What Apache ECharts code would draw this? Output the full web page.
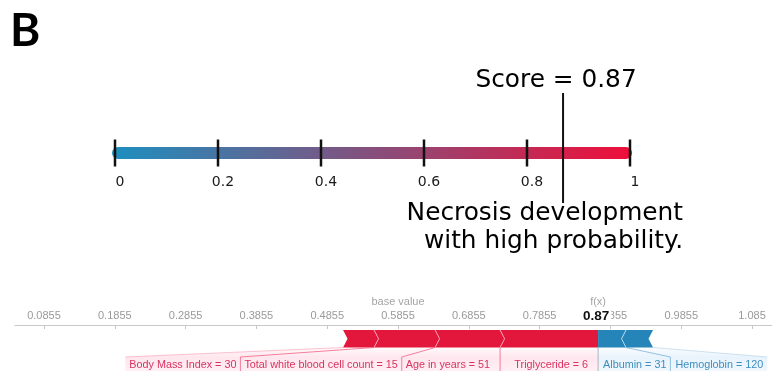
<!DOCTYPE html>
<html>
<head>
<meta charset="utf-8">
<script src="https://cdn.jsdelivr.net/npm/echarts@6/dist/echarts.min.js"></script>
<style>
html, body { margin: 0; padding: 0; background: #fff; }
#c { width: 772px; height: 371px; }
</style>
</head>
<body>
<div id="c"></div>
<script>
// ---------------- data ----------------
const panelLetter = 'B';

const gaugeTicks = [0, 0.2, 0.4, 0.6, 0.8, 1];
const gaugeTickLabels = ['0', '0.2', '0.4', '0.6', '0.8', '1'];
const score = 0.87;
const scoreLabel = 'Score = 0.87';
const verdictLabel = 'Necrosis development\nwith high probability.';

const baseValue = 0.5855;
const outputLabel = '0.87';
const featureLabels = [
  'Body Mass Index = 30',
  'Total white blood cell count = 15',
  'Age in years = 51',
  'Triglyceride = 6',
  'Albumin = 31',
  'Hemoglobin = 120'
];
const shapValues = [0.0438, 0.0862, 0.0918, 0.1384, -0.0395, -0.0381];

const forceTicks = [0.0855, 0.1855, 0.2855, 0.3855, 0.4855, 0.5855, 0.6855, 0.7855, 0.8855, 0.9855, 1.0855];
const forceTickLabels = ['0.0855', '0.1855', '0.2855', '0.3855', '0.4855', '0.5855', '0.6855', '0.7855', '0.8855', '0.9855', '1.085'];

// ---------------- style ----------------
const RED = '#e3163c', BLUE = '#2585b8';
const RED_TEXT = '#d8335f', BLUE_TEXT = '#3d8dbd';
const SANS = '"Liberation Sans", Arial, sans-serif';
const DEJAVU = '"DejaVu Sans", sans-serif';
const LABEL_FS = 10.8;
const forceAxisMin = 0.04454, forceAxisMax = 1.11375;

// ---------------- derived ----------------
const n = featureLabels.length;
const fx = baseValue + shapValues.reduce((a, b) => a + b, 0);
const segs = [];
let cur = fx;
for (let i = n - 1; i >= 0; i--) if (shapValues[i] > 0) { segs[i] = { a: cur - shapValues[i], b: cur }; cur -= shapValues[i]; }
cur = fx;
for (let i = 0; i < n; i++) if (shapValues[i] < 0) { segs[i] = { a: cur, b: cur - shapValues[i] }; cur -= shapValues[i]; }
const posIdx = []; for (let i = n - 1; i >= 0; i--) if (shapValues[i] > 0) posIdx.push(i); // nearest fx first
const negIdx = []; for (let i = 0; i < n; i++) if (shapValues[i] < 0) negIdx.push(i);       // nearest fx first

const mctx = document.createElement('canvas').getContext('2d');
mctx.font = LABEL_FS + 'px ' + SANS;
const textW = s => mctx.measureText(s).width;

function computeLayout(api) {
  const px = v => api.coord([v, 0])[0];
  const fxp = px(fx);
  const L = [];
  let prev = fxp;
  posIdx.forEach(i => {
    const sl = px(segs[i].a), sr = px(segs[i].b);
    const tr = Math.min(sr - 10, prev - 4);
    const tl = tr - textW(featureLabels[i]);
    const boxL = Math.min(sl, tl - 4);
    L[i] = { sl, sr, boxL, boxR: prev, tx: tr, align: 'right', pos: true };
    prev = boxL;
  });
  prev = fxp;
  negIdx.forEach(i => {
    const sl = px(segs[i].a), sr = px(segs[i].b);
    const tl = Math.max(sl + 5, prev + 5);
    const boxR = Math.max(sr, tl + textW(featureLabels[i]) + 4);
    L[i] = { sl, sr, boxL: prev, boxR, tx: tl, align: 'left', pos: false };
    prev = boxR;
  });
  return { L, fxp };
}

function renderForce(params, api) {
  const i = api.value(2);
  const cs = params.coordSys;
  const y0 = cs.y;
  const barTop = y0 + 5, barBot = y0 + 22.5, mid = (barTop + barBot) / 2;
  const labTop = y0 + 32, textY = y0 + 40.5, bottom = y0 + cs.height + 2;
  const h = 4.5;
  const { L, fxp } = computeLayout(api);
  const d = L[i];
  const pos = d.pos;
  const outer = pos ? i === posIdx[posIdx.length - 1] : i === negIdx[negIdx.length - 1];
  const children = [];
  const cr = pos ? '255,13,87' : '30,136,229';
  // shading
  children.push({
    type: 'polygon',
    shape: { points: [[d.sl, barBot], [d.sr, barBot], [d.boxR, labTop], [d.boxR, bottom], [d.boxL, bottom], [d.boxL, labTop]] },
    style: {
      fill: new echarts.graphic.LinearGradient(0, 0, 0, 1, [
        { offset: 0, color: 'rgba(' + cr + ',0.02)' },
        { offset: 0.4, color: 'rgba(' + cr + ',0.10)' },
        { offset: 1, color: 'rgba(' + cr + ',0.06)' }
      ])
    }
  });
  // bar arrow
  let pts;
  if (pos) {
    const nearest = i === posIdx[0];
    pts = [[d.sl, barTop], [d.sr, barTop]];
    if (!nearest) pts.push([d.sr + h, mid]);
    pts.push([d.sr, barBot], [d.sl, barBot], [d.sl + h, mid]);
  } else {
    const nearest = i === negIdx[0];
    pts = [[d.sl, barTop], [d.sr, barTop], [d.sr - h, mid], [d.sr, barBot], [d.sl, barBot]];
    if (!nearest) pts.push([d.sl - h, mid]);
  }
  children.push({ type: 'polygon', shape: { points: pts }, style: { fill: pos ? RED : BLUE } });
  // chevron separators
  if (pos && !outer) {
    children.push({ type: 'polyline', shape: { points: [[d.sl, barTop], [d.sl + h, mid], [d.sl, barBot]] },
      style: { stroke: 'rgba(255,170,190,0.9)', lineWidth: 1, fill: null } });
  }
  if (!pos && i !== negIdx[0]) {
    children.push({ type: 'polyline', shape: { points: [[d.sl, barTop], [d.sl - h, mid], [d.sl, barBot]] },
      style: { stroke: 'rgba(190,220,238,0.9)', lineWidth: 1, fill: null } });
  }
  // connector + divider
  const cx0 = pos ? d.sl : d.sr, cx1 = pos ? d.boxL : d.boxR;
  const cpts = outer ? [[cx0, barBot], [cx1, labTop]] : [[cx0, barBot], [cx1, labTop], [cx1, bottom]];
  children.push({ type: 'polyline', shape: { points: cpts },
    style: { stroke: pos ? 'rgba(240,90,125,' + (outer ? 0.35 : 0.75) + ')' : 'rgba(120,175,210,' + (outer ? 0.35 : 0.75) + ')', lineWidth: 1, fill: null } });
  // f(x) divider
  if (i === posIdx[0]) {
    children.push({ type: 'line', shape: { x1: fxp, y1: barBot, x2: fxp, y2: bottom },
      style: { stroke: '#b5b5b5', lineWidth: 1 } });
  }
  // label
  children.push({ type: 'text', style: {
    text: featureLabels[i], x: d.tx, y: textY, align: d.align, verticalAlign: 'middle',
    fill: pos ? RED_TEXT : BLUE_TEXT, fontSize: LABEL_FS, fontFamily: SANS } });
  return { type: 'group', children };
}

function renderGauge(params, api) {
  const p0 = api.coord([api.value(0), 0]);
  const p1 = api.coord([api.value(1), 0]);
  const hgt = 12;
  return {
    type: 'rect',
    shape: { x: p0[0] - 3, y: p0[1] - hgt / 2, width: p1[0] - p0[0] + 5, height: hgt, r: 6 },
    style: {
      fill: new echarts.graphic.LinearGradient(0, 0, 1, 0, [
        { offset: 0, color: '#1d8fbf' },
        { offset: 1, color: '#ef0f39' }
      ])
    }
  };
}

const bigText = { fontSize: 24.8, fontFamily: DEJAVU, color: '#000' };

const chart = echarts.init(document.getElementById('c'), null, { renderer: 'canvas' });
chart.setOption({
  animation: false,
  backgroundColor: '#fff',
  title: {
    text: panelLetter, left: 5, top: 3,
    textStyle: { fontSize: 46, fontWeight: 'bold', fontFamily: 'Lato, "Liberation Sans", sans-serif', color: '#000' }
  },
  grid: [
    { left: 115, width: 515, top: 93, height: 120 },
    { left: 15, right: 0, top: 325, height: 46 }
  ],
  xAxis: [
    {
      gridIndex: 0, type: 'value', min: 0, max: 1, offset: -38,
      axisLine: { show: false }, axisTick: { show: false }, splitLine: { show: false },
      axisLabel: {
        customValues: gaugeTicks, margin: 0, fontSize: 14, color: '#1a1a1a', fontFamily: DEJAVU,
        padding: [0, 0, 0, 10],
        formatter: v => gaugeTickLabels[gaugeTicks.findIndex(t => Math.abs(t - v) < 1e-9)]
      }
    },
    {
      gridIndex: 1, type: 'value', position: 'top', min: forceAxisMin, max: forceAxisMax,
      axisLine: { show: true, lineStyle: { color: '#c8c8c8', width: 1 } },
      axisTick: { show: true, inside: true, length: 4, customValues: forceTicks, lineStyle: { color: '#c8c8c8' } },
      splitLine: { show: false },
      axisLabel: {
        customValues: forceTicks, margin: 4, fontSize: 11, color: '#9a9a9a', fontFamily: SANS,
        formatter: v => forceTickLabels[forceTicks.findIndex(t => Math.abs(t - v) < 1e-9)]
      }
    }
  ],
  yAxis: [
    { gridIndex: 0, type: 'value', min: -1, max: 1, show: false },
    { gridIndex: 1, type: 'value', min: 0, max: 1, show: false, inverse: true }
  ],
  series: [
    {
      type: 'custom', xAxisIndex: 0, yAxisIndex: 0, z: 2,
      renderItem: renderGauge, encode: { x: [0, 1], y: 2 },
      data: [[gaugeTicks[0], gaugeTicks[gaugeTicks.length - 1], 0]]
    },
    {
      type: 'scatter', xAxisIndex: 0, yAxisIndex: 0, z: 3,
      symbol: 'rect', symbolSize: [2.5, 27], itemStyle: { color: '#111', opacity: 1 },
      data: gaugeTicks.map(t => [t, 0]), silent: true
    },
    {
      type: 'line', xAxisIndex: 0, yAxisIndex: 0, z: 4, symbol: 'none',
      lineStyle: { color: '#111', width: 2 },
      data: [[score, 1], [score, -0.833]]
    },
    {
      type: 'scatter', xAxisIndex: 0, yAxisIndex: 0, z: 5, symbolSize: 0,
      itemStyle: { opacity: 1 },
      data: [
        { value: [score, 1], label: Object.assign({ show: true, formatter: scoreLabel, position: [-7, -12], align: 'center', verticalAlign: 'middle' }, bigText) },
        { value: [score, -0.833], label: Object.assign({ show: true, formatter: verdictLabel, position: [120, -3], align: 'right', verticalAlign: 'top', lineHeight: 28 }, bigText) }
      ],
      label: bigText
    },
    {
      type: 'custom', xAxisIndex: 1, yAxisIndex: 1, z: 2,
      renderItem: renderForce, encode: { x: [0, 1], y: 3 },
      data: featureLabels.map((_, i) => [segs[i].a, segs[i].b, i, 0])
    },
    {
      type: 'scatter', xAxisIndex: 1, yAxisIndex: 1, z: 10, symbolSize: 0,
      itemStyle: { opacity: 1 },
      data: [
        { value: [baseValue, 0], label: { show: true, formatter: 'base value', position: [0, -23.3], align: 'center', verticalAlign: 'middle', fontSize: 11, color: '#a5a5a5', fontFamily: SANS } },
        { value: [fx, 0], label: { show: true, formatter: 'f(x)', position: [0, -23.3], align: 'center', verticalAlign: 'middle', fontSize: 11, color: '#a5a5a5', fontFamily: SANS } },
        { value: [fx, 0], label: { show: true, formatter: outputLabel, position: [-2, -8.5], align: 'center', verticalAlign: 'middle', fontSize: 13.5, fontWeight: 'bold', color: '#111', fontFamily: SANS, backgroundColor: '#fff', padding: [0, 2, 0, 2] } }
      ]
    }
  ]
});
</script>
</body>
</html>
